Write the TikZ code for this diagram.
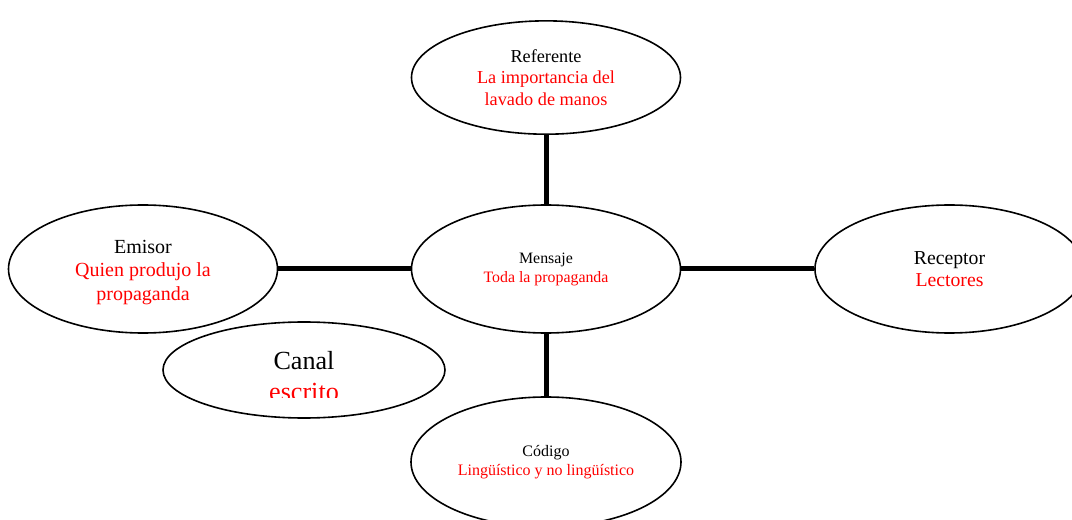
\documentclass[tikz,border=0pt]{standalone}
\usepackage{fontspec}
\setmainfont{Liberation Serif}
\usetikzlibrary{shapes.geometric,positioning}

\begin{document}
\begin{tikzpicture}[x=0.75pt,y=-0.75pt,node distance=10mm,on grid,
		bubble/.style={ellipse,draw=black,line width=1.2pt,inner sep=0pt,align=center,minimum width=201.75pt,minimum height=96pt},
		link/.style={line width=3.75pt}]
		\useasboundingbox (0,0) rectangle (1072,520);
		\node[bubble,font=\fontsize{11.9}{14.2}\selectfont] (mensaje) at (546,269) {Mensaje\\\textcolor{red}{Toda la propaganda}};
		\node[bubble,minimum height=85pt,font=\fontsize{13.7}{15.9}\selectfont] (referente) [above=143.6pt of mensaje] {Referente\\\textcolor{red}{La importancia del}\\\textcolor{red}{lavado de manos}};
		\node[bubble,font=\fontsize{15}{17.8}\selectfont] (emisor) [left=302.25pt of mensaje] {};
		\node[align=center,font=\fontsize{15}{17.8}\selectfont,yshift=-2.5pt] (emisortxt) at (emisor) {Emisor\\\textcolor{red}{Quien produjo la}\\\textcolor{red}{propaganda}};
		\node[bubble,font=\fontsize{14.8}{16.8}\selectfont] (receptor) [right=302.6pt of mensaje] {Receptor\\\textcolor{red}{Lectores}};
		\node[bubble,minimum width=202.5pt,minimum height=97.5pt,font=\fontsize{12}{14}\selectfont] (codigo) [below=144.75pt of mensaje] {Código\\\textcolor{red}{Lingüístico y no lingüístico}};
		\node[bubble,minimum width=211.5pt,minimum height=72pt] (canal) [below right=75.75pt and 120.75pt of emisor] {};
		
		% texto del canal, cortado abajo
		\begin{scope}
		\clip (150,300) rectangle (460,398);
		\node[align=center,font=\fontsize{19.6}{23.5}\selectfont,yshift=-4.5pt] (canaltxt) at (canal) {Canal\\\textcolor{red}{escrito}};
		\end{scope}
		
		\draw[link] (referente) -- (mensaje);
		\draw[link] (emisor) -- (mensaje);
		\draw[link] (mensaje) -- (receptor);
		\draw[link] (mensaje) -- (codigo);
\end{tikzpicture}
\end{document}
